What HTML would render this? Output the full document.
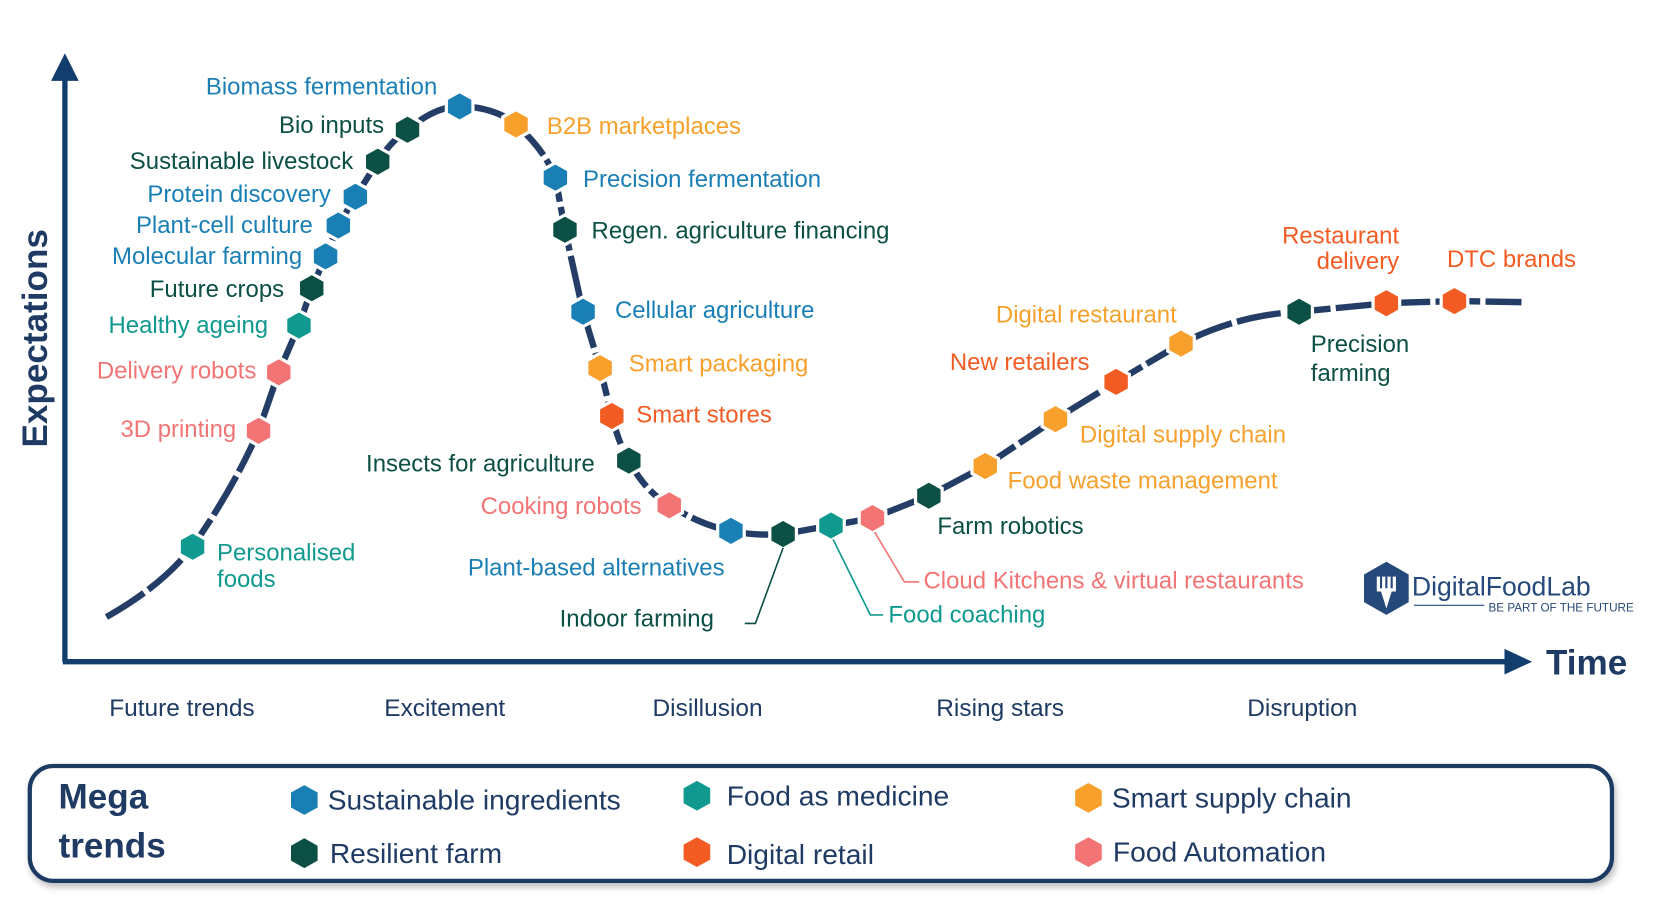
<!DOCTYPE html>
<html><head><meta charset="utf-8"><style>html,body{margin:0;padding:0;background:#fff}svg{display:block}</style></head>
<body>
<svg width="1663" height="900" viewBox="0 0 1563 846" preserveAspectRatio="none" xmlns="http://www.w3.org/2000/svg" font-family="Liberation Sans, sans-serif">
<defs>
<polygon id="hx" points="0,-14 12.5,-7 12.5,7 0,14 -12.5,7 -12.5,-7"/>
<filter id="sh" x="-5%" y="-20%" width="110%" height="150%"><feDropShadow dx="2" dy="4" stdDeviation="3" flood-color="#000" flood-opacity="0.25"/></filter>
</defs>
<rect width="1563" height="846" fill="#fff"/>
<line x1="61" y1="622" x2="61" y2="72" stroke="#123e6e" stroke-width="5"/>
<polygon points="61,50 48,76 74,76" fill="#123e6e"/>
<line x1="59" y1="622" x2="1418" y2="622" stroke="#123e6e" stroke-width="5"/>
<polygon points="1440,622 1414,610 1414,634" fill="#123e6e"/>
<text x="1453" y="634" font-size="33" font-weight="bold" fill="#1f3b64">Time</text>
<text transform="translate(44,318) rotate(-90)" text-anchor="middle" font-size="33" font-weight="bold" fill="#1f3b64">Expectations</text>
<path d="M100,580 C135,560 160,540 180,515 C205,480 228,440 243,405 L262,350 L281,306 L293,271 L306,241 L318,212 L334,185 L355,152 C365,137 372,130 383,122 C400,108 415,100 432,100 C455,100 475,108 485,117 C505,135 515,150 522,167 L531,216 L548,293 L564,346 L575,391 C580,410 585,423 591,433 C600,450 612,465 629,475 C650,488 670,496 687,499 C705,503 720,503 736,502 L781,494 L820,487 L873,466 L926,438 L992,394 L1049,359 L1110,323 C1150,303 1185,295 1221,293 L1303,285 L1367,283 L1430,284" fill="none" stroke="#243d66" stroke-width="6" stroke-dasharray="42 5"/>
<g stroke="#fff" stroke-width="3">
<use href="#hx" x="181" y="514" fill="#10998e"/>
<use href="#hx" x="243" y="405" fill="#f27474"/>
<use href="#hx" x="262" y="350" fill="#f27474"/>
<use href="#hx" x="281" y="306" fill="#10998e"/>
<use href="#hx" x="293" y="271" fill="#0b4f45"/>
<use href="#hx" x="306" y="241" fill="#1a7fb5"/>
<use href="#hx" x="318" y="212" fill="#1a7fb5"/>
<use href="#hx" x="334" y="185" fill="#1a7fb5"/>
<use href="#hx" x="355" y="152" fill="#0b4f45"/>
<use href="#hx" x="383" y="122" fill="#0b4f45"/>
<use href="#hx" x="432" y="100" fill="#1a7fb5"/>
<use href="#hx" x="485" y="117" fill="#f7a02c"/>
<use href="#hx" x="522" y="167" fill="#1a7fb5"/>
<use href="#hx" x="531" y="216" fill="#0b4f45"/>
<use href="#hx" x="548" y="293" fill="#1a7fb5"/>
<use href="#hx" x="564" y="346" fill="#f7a02c"/>
<use href="#hx" x="575" y="391" fill="#f25c23"/>
<use href="#hx" x="591" y="433" fill="#0b4f45"/>
<use href="#hx" x="629" y="475" fill="#f27474"/>
<use href="#hx" x="687" y="499" fill="#1a7fb5"/>
<use href="#hx" x="736" y="502" fill="#0b4f45"/>
<use href="#hx" x="781" y="494" fill="#10998e"/>
<use href="#hx" x="820" y="487" fill="#f27474"/>
<use href="#hx" x="873" y="466" fill="#0b4f45"/>
<use href="#hx" x="926" y="438" fill="#f7a02c"/>
<use href="#hx" x="992" y="394" fill="#f7a02c"/>
<use href="#hx" x="1049" y="359" fill="#f25c23"/>
<use href="#hx" x="1110" y="323" fill="#f7a02c"/>
<use href="#hx" x="1221" y="293" fill="#0b4f45"/>
<use href="#hx" x="1303" y="285" fill="#f25c23"/>
<use href="#hx" x="1367" y="283" fill="#f25c23"/>
</g>
<g fill="none" stroke-width="1.5">
<polyline points="736,515 710,586 700,586" stroke="#0b4f45"/>
<polyline points="783,507 818,578 830,578" stroke="#10998e"/>
<polyline points="822,500 850,547 864,547" stroke="#f27474"/>
</g>
<g font-size="22.5">
<text x="204" y="527" fill="#10998e">Personalised</text>
<text x="204" y="552" fill="#10998e">foods</text>
<text x="222" y="411" text-anchor="end" fill="#f27474">3D printing</text>
<text x="241" y="356" text-anchor="end" fill="#f27474">Delivery robots</text>
<text x="252" y="313" text-anchor="end" fill="#10998e">Healthy ageing</text>
<text x="267" y="279" text-anchor="end" fill="#0b4f45">Future crops</text>
<text x="284" y="248" text-anchor="end" fill="#1a7fb5">Molecular farming</text>
<text x="294" y="219" text-anchor="end" fill="#1a7fb5">Plant-cell culture</text>
<text x="311" y="190" text-anchor="end" fill="#1a7fb5">Protein discovery</text>
<text x="332" y="159" text-anchor="end" fill="#0b4f45">Sustainable livestock</text>
<text x="361" y="125" text-anchor="end" fill="#0b4f45">Bio inputs</text>
<text x="411" y="89" text-anchor="end" fill="#1a7fb5">Biomass fermentation</text>
<text x="514" y="126" fill="#f7a02c">B2B marketplaces</text>
<text x="548" y="176" fill="#1a7fb5">Precision fermentation</text>
<text x="556" y="224" fill="#0b4f45">Regen. agriculture financing</text>
<text x="578" y="299" fill="#1a7fb5">Cellular agriculture</text>
<text x="591" y="349" fill="#f7a02c">Smart packaging</text>
<text x="598" y="397" fill="#f25c23">Smart stores</text>
<text x="559" y="443" text-anchor="end" fill="#0b4f45">Insects for agriculture</text>
<text x="603" y="483" text-anchor="end" fill="#f27474">Cooking robots</text>
<text x="681" y="541" text-anchor="end" fill="#1a7fb5">Plant-based alternatives</text>
<text x="671" y="589" text-anchor="end" fill="#0b4f45">Indoor farming</text>
<text x="835" y="585" fill="#10998e">Food coaching</text>
<text x="868" y="553" fill="#f27474">Cloud Kitchens &amp; virtual restaurants</text>
<text x="881" y="502" fill="#0b4f45">Farm robotics</text>
<text x="947" y="459" fill="#f7a02c">Food waste management</text>
<text x="1015" y="416" fill="#f7a02c">Digital supply chain</text>
<text x="1024" y="348" text-anchor="end" fill="#f25c23">New retailers</text>
<text x="1106" y="303" text-anchor="end" fill="#f7a02c">Digital restaurant</text>
<text x="1315" y="229" text-anchor="end" fill="#f25c23">Restaurant</text>
<text x="1315" y="253" text-anchor="end" fill="#f25c23">delivery</text>
<text x="1360" y="251" fill="#f25c23">DTC brands</text>
<text x="1232" y="331" fill="#0b4f45">Precision</text>
<text x="1232" y="358" fill="#0b4f45">farming</text>
</g>
<polygon points="1303,528 1324,540 1324,566 1303,578 1282,566 1282,540" fill="#25497a"/>
<rect x="1294" y="542" width="18" height="14" fill="#fff"/>
<g stroke="#25497a" stroke-width="2"><line x1="1298" y1="542" x2="1298" y2="553"/><line x1="1303" y1="542" x2="1303" y2="553"/><line x1="1308" y1="542" x2="1308" y2="553"/></g>
<polygon points="1298,556 1308,556 1303,572" fill="#fff"/>
<text x="1327" y="560" font-size="25" fill="#25497a">DigitalFoodLab</text>
<line x1="1329" y1="569" x2="1395" y2="569" stroke="#25497a" stroke-width="1"/>
<text x="1399" y="575" font-size="11" fill="#25497a">BE PART OF THE FUTURE</text>
<g font-size="23" fill="#1f3b64" text-anchor="middle">
<text x="171" y="673">Future trends</text>
<text x="418" y="673">Excitement</text>
<text x="665" y="673">Disillusion</text>
<text x="940" y="673">Rising stars</text>
<text x="1224" y="673">Disruption</text>
</g>
<rect x="28" y="720" width="1487" height="108" rx="22" fill="#fff" stroke="#1f3b64" stroke-width="4" filter="url(#sh)"/>
<text x="55" y="760" font-size="33" font-weight="bold" fill="#1f3b64">Mega</text>
<text x="55" y="806" font-size="33" font-weight="bold" fill="#1f3b64">trends</text>
<g stroke="none">
<use href="#hx" x="286" y="752" fill="#1a7fb5"/>
<use href="#hx" x="286" y="802" fill="#0b4f45"/>
<use href="#hx" x="655" y="748" fill="#10998e"/>
<use href="#hx" x="655" y="801" fill="#f25c23"/>
<use href="#hx" x="1023" y="750" fill="#f7a02c"/>
<use href="#hx" x="1023" y="801" fill="#f27474"/>
</g>
<g font-size="26.5" fill="#1f3b64">
<text x="308" y="761">Sustainable ingredients</text>
<text x="310" y="811">Resilient farm</text>
<text x="683" y="757">Food as medicine</text>
<text x="683" y="812">Digital retail</text>
<text x="1045" y="759">Smart supply chain</text>
<text x="1046" y="810">Food Automation</text>
</g>
</svg>
</body></html>
